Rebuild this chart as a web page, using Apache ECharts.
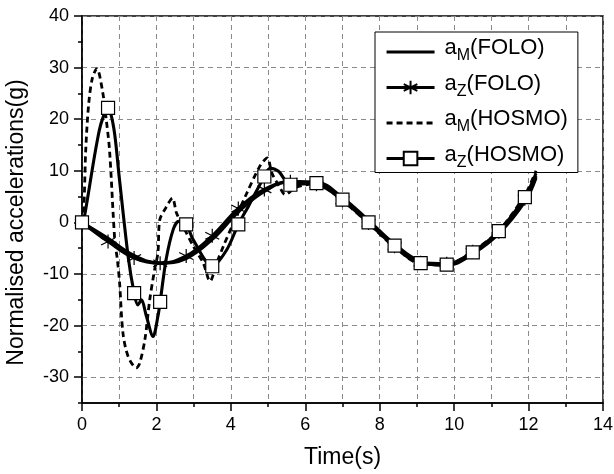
<!DOCTYPE html>
<html>
<head>
<meta charset="utf-8">
<script src="https://cdn.jsdelivr.net/npm/echarts@6/dist/echarts.min.js"></script>
<style>html,body{margin:0;padding:0;background:#fff;}#c{width:614px;height:474px;}</style>
</head>
<body>
<div id="c"></div>
<script>
// ---- data ----
const xTicks = [0, 2, 4, 6, 8, 10, 12, 14];
const yTicks = [-30, -20, -10, 0, 10, 20, 30, 40];
const yMinorTicks = [-35, -25, -15, -5, 5, 15, 25, 35];
const markerTimes = [0, 0.7, 1.4, 2.1, 2.8, 3.5, 4.2, 4.9, 5.6, 6.3, 7.0, 7.7, 8.4, 9.1, 9.8, 10.5, 11.2, 11.9];

const seriesNames = ['a_M(FOLO)', 'a_z(FOLO)', 'a_M(HOSMO)', 'a_z(HOSMO)'];

const tMFOLO = [0, 0.7, 1.4, 2.1, 2.8, 3.5, 4.2, 4.9, 5.6, 6.3, 7.0, 7.7, 8.4, 9.1, 9.8, 10.5, 11.2, 11.9, 12.2];
const aMFOLO = [0, -3.1, -6.4, -7.9, -7.0, -3.3, 2.0, 6.0, 7.9, 7.8, 4.8, 0.4, -4.2, -7.6, -8.3, -6.1, -2.2, 4.0, 8.6];

const tZFOLO = [0, 0.7, 1.4, 2.1, 2.8, 3.5, 4.2, 4.9, 5.6, 6.3, 7.0, 7.7, 8.4, 9.1, 9.8, 10.5, 11.2, 11.9, 12.2];
const aZFOLO = [0, -3.7, -6.9, -7.9, -6.5, -2.6, 2.7, 6.4, 7.9, 7.4, 4.3, -0.1, -4.6, -7.8, -8.0, -5.7, -1.8, 4.6, 9.0];

const tMHOSMO = [0, 0.05, 0.1, 0.18, 0.28, 0.4, 0.55, 0.65, 0.74, 0.88, 0.95, 1.01, 1.1, 1.24, 1.46, 1.55, 1.69, 1.82, 1.95, 2.04, 2.09, 2.25, 2.43, 2.54, 2.72, 2.99, 3.26, 3.44, 3.62, 3.8, 4.07, 4.43, 4.78, 4.98, 5.1, 5.3, 5.46, 5.75, 6.3, 7.0, 7.7, 8.4, 9.1, 9.8, 10.5, 11.2, 11.9, 12.2];
const aMHOSMO = [0, 3, 14, 23, 28, 29.8, 25.5, 20, 14, -3.4, -7.2, -11.7, -21.4, -26, -28.2, -27.3, -22.7, -15, -9.2, -5.9, 0.5, 2.8, 4.7, 1.8, -0.8, -4.6, -7.9, -11.4, -7.9, -4.6, -0.1, 5.7, 10.9, 12.5, 9.6, 7.0, 5.4, 6.8, 7.5, 4.2, -0.2, -4.8, -8.0, -8.1, -5.6, -1.6, 5.3, 10.0];

const tZHOSMO = [0, 0.05, 0.47, 0.7, 0.86, 1.0, 1.24, 1.4, 1.5, 1.6, 1.72, 1.91, 2.04, 2.1, 2.26, 2.45, 2.6, 2.8, 2.99, 3.5, 3.89, 4.2, 4.47, 4.9, 5.05, 5.28, 5.6, 6.3, 7.0, 7.7, 8.4, 9.1, 9.8, 10.5, 11.2, 11.9, 12.2];
const aZHOSMO = [0, 0.5, 18, 22.2, 18, 8.8, -6.6, -13.7, -16, -15, -17.9, -22.1, -18.2, -15.4, -7.2, -1.4, 0.2, -0.4, -3.4, -8.5, -5.3, -0.4, 3.1, 8.9, 10.5, 9.9, 7.3, 7.6, 4.4, 0, -4.5, -7.9, -8.2, -5.8, -1.7, 4.9, 9.5];

// ---- build ----
function isMarker(t) {
  return markerTimes.some(m => Math.abs(m - t) < 1e-6);
}
function pairs(ts, vs) { return ts.map((t, i) => [t, vs[i]]); }
function markerPairs(ts, vs, sym) {
  return ts.map((t, i) => ({ value: [t, vs[i]], symbol: isMarker(t) ? sym : 'none' }));
}

const STAR = 'path://M0,-10L0,10M-8.66,-5L8.66,5M-8.66,5L8.66,-5';
const gridColor = '#8a8a8a';
const font = 'Liberation Sans, Arial, sans-serif';
const LW = 3.1;

const chart = echarts.init(document.getElementById('c'), null, { renderer: 'canvas' });

const legendLabels = {
  'a_M(FOLO)': '{f|a}{s|M}{m|(FOLO)}',
  'a_z(FOLO)': '{f|a}{s|Z}{m|(FOLO)}',
  'a_M(HOSMO)': '{f|a}{s|M}{m|(HOSMO)}',
  'a_z(HOSMO)': '{f|a}{s|Z}{m|(HOSMO)}'
};

const invisibleSym = { color: 'rgba(0,0,0,0)', borderWidth: 1, borderColor: 'rgba(0,0,0,0)' };

const option = {
  animation: false,
  backgroundColor: '#fff',
  grid: { left: 82, right: 11, top: 16, bottom: 71, show: true, borderColor: '#000', borderWidth: 1.5, backgroundColor: 'transparent', outerBoundsMode: 'none', containLabel: false },
  legend: {
    data: seriesNames.map(n => ({ name: n, lineStyle: { color: '#000', width: LW } })),
    orient: 'vertical',
    left: 375,
    top: 32,
    padding: [0, 10, 2, 10],
    itemGap: 3.5,
    itemWidth: 48,
    itemHeight: 17,
    backgroundColor: '#fff',
    borderColor: '#000',
    borderWidth: 1,
    borderRadius: 0,
    lineStyle: { color: '#000', width: LW },
    formatter: name => legendLabels[name],
    textStyle: {
      color: '#000',
      fontFamily: font,
      rich: {
        f: { fontSize: 22, lineHeight: 24, verticalAlign: 'bottom', padding: [5, 0, 5, 5], color: '#000', fontFamily: font },
        m: { fontSize: 22, lineHeight: 24, verticalAlign: 'bottom', padding: [5, 0, 5, 0], color: '#000', fontFamily: font },
        s: { fontSize: 16, lineHeight: 16, verticalAlign: 'bottom', color: '#000', fontFamily: font }
      }
    }
  },
  xAxis: {
    type: 'value', min: 0, max: 14, interval: 2,
    name: 'Time(s)', nameLocation: 'middle', nameGap: 43,
    nameTextStyle: { fontSize: 23, color: '#000', fontFamily: font },
    axisLine: { show: true, onZero: false, lineStyle: { color: '#000', width: 1.5 } },
    axisTick: { show: true, inside: false, length: 8, lineStyle: { color: '#000', width: 1.5 } },
    minorTick: { show: true, splitNumber: 2, length: 4, lineStyle: { color: '#000', width: 1.5 } },
    axisLabel: { fontSize: 18, color: '#000', fontFamily: font, margin: 13, customValues: xTicks },
    splitLine: { show: true, lineStyle: { color: gridColor, type: [5, 4], width: 1 } },
    minorSplitLine: { show: true, lineStyle: { color: gridColor, type: [5, 4], width: 1 } }
  },
  yAxis: [{
    type: 'value', min: -35, max: 40, interval: 5,
    name: 'Normalised accelerations(g)', nameLocation: 'middle', nameGap: 54,
    nameTextStyle: { fontSize: 23, color: '#000', fontFamily: font, padding: [0, 26, 0, 0] },
    axisLine: { show: true, onZero: false, lineStyle: { color: '#000', width: 1.5 } },
    axisTick: { show: true, inside: false, length: 8, customValues: yTicks, lineStyle: { color: '#000', width: 1.5 } },
    axisLabel: { fontSize: 18, color: '#000', fontFamily: font, margin: 13, customValues: yTicks },
    splitLine: { show: true, lineStyle: { color: gridColor, type: [5, 4], width: 1 } }
  }, {
    type: 'value', min: -35, max: 40, interval: 5, position: 'left',
    axisLine: { show: false },
    axisTick: { show: true, inside: false, length: 4, customValues: yMinorTicks, lineStyle: { color: '#000', width: 1.5 } },
    axisLabel: { show: false },
    splitLine: { show: false }
  }],
  series: [
    {
      name: seriesNames[0], type: 'line', smooth: 0.4, symbol: 'circle', showSymbol: false,
      data: pairs(tMFOLO, aMFOLO),
      lineStyle: { color: '#000', width: LW }, itemStyle: invisibleSym, z: 2
    },
    {
      name: seriesNames[1], type: 'line', smooth: 0.4, symbol: STAR, symbolSize: 14, showAllSymbol: true,
      data: markerPairs(tZFOLO, aZFOLO, STAR),
      lineStyle: { color: '#000', width: LW }, itemStyle: { color: '#000', borderColor: '#000', borderWidth: 1.2 }, z: 3
    },
    {
      name: seriesNames[2], type: 'line', smooth: 0.3, symbol: 'circle', showSymbol: false,
      data: pairs(tMHOSMO, aMHOSMO),
      lineStyle: { color: '#000', width: 2.8, type: [6, 4] }, itemStyle: invisibleSym, z: 4
    },
    {
      name: seriesNames[3], type: 'line', smooth: 0.3, symbol: 'rect', symbolSize: 13, showAllSymbol: true,
      data: markerPairs(tZHOSMO, aZHOSMO, 'rect'),
      lineStyle: { color: '#000', width: LW }, itemStyle: { color: '#fff', borderColor: '#000', borderWidth: 1.2 }, z: 5
    }
  ]
};
chart.setOption(option);
</script>
</body>
</html>
